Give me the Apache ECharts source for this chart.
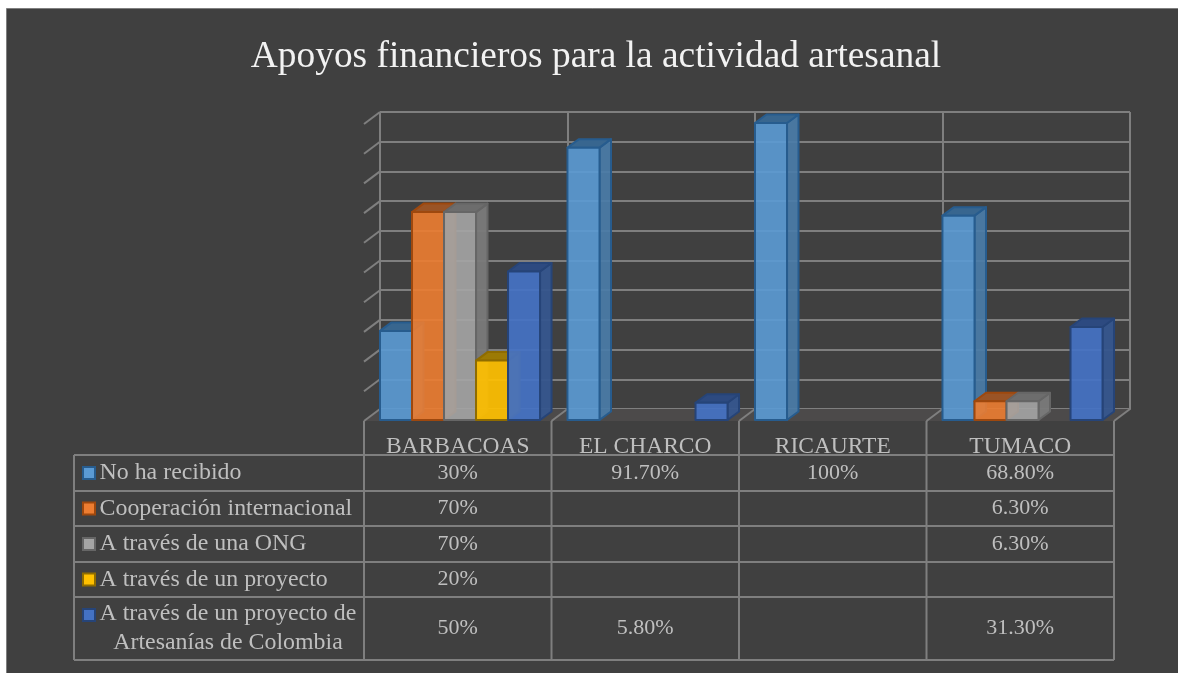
<!DOCTYPE html>
<html><head><meta charset="utf-8">
<style>html,body{margin:0;padding:0;background:#fff}#c{width:1178px;height:673px}</style>
<script src="https://cdn.jsdelivr.net/npm/echarts@6/dist/echarts.min.js"></script>
</head><body><div id="c"></div>
<script>
const titleText = 'Apoyos financieros para la actividad artesanal';
const categories = ['BARBACOAS','EL CHARCO','RICAURTE','TUMACO'];
const noRecibido = [30, 91.7, 100, 68.8];
const cooperacion = [70, null, null, 6.3];
const ong = [70, null, null, 6.3];
const proyecto = [20, null, null, null];
const artesanias = [50, 5.8, null, 31.3];
const seriesNames = ['No ha recibido','Cooperación internacional','A través de una ONG','A través de un proyecto','A través de un proyecto de\nArtesanías de Colombia'];
const seriesValues = [noRecibido, cooperacion, ong, proyecto, artesanias];
const wallTicks = [10,20,30,40,50,60,70,80,90,100];

const palette = [
 {front:'rgba(91,155,213,0.9)', side:'rgba(74,124,168,0.92)', top:'#38668f', edge:'#275c8e', key:'#5b9bd5'},
 {front:'rgba(237,125,49,0.9)', side:'rgba(176,94,38,0.92)', top:'#9a5426', edge:'#9e480e', key:'#ed7d31'},
 {front:'rgba(165,165,165,0.9)', side:'rgba(122,122,122,0.95)', top:'#6d6d6d', edge:'#666666', key:'#a5a5a5'},
 {front:'rgba(255,192,0,0.92)', side:'rgba(170,130,0,0.9)', top:'#9c7a05', edge:'#8f6c00', key:'#ffc000'},
 {front:'rgba(68,114,196,0.92)', side:'rgba(54,86,142,0.95)', top:'#2d4a80', edge:'#264478', key:'#4472c4'}
];

const FX=364, FW=750, FY=123, FH=297;   // front plane
const DX=16, DY=11;                     // wall depth
const BAR_DX=11.5, BAR_DY=8.5;          // bar depth
const LINE='#7f7f7f', TXT='#bfbfbf';
const rowY=[455,491,526,562,597,660];
const colX=[364,551.5,739,926.5,1114];
const TABLE_L=74;

function fmt(v){ if(v==null) return ''; return Number.isInteger(v)? v+'%' : v.toFixed(2)+'%'; }

function barRender(si){
  return function(params, api){
    const v = api.value(1);
    if (v==null || isNaN(v)) return;
    const c = api.value(0);
    const band = api.size([1,0])[0];
    const bw = band*0.1707;
    const start = api.coord([c,0]);
    const topPt = api.coord([c,v]);
    const x0 = start[0]-band/2+16+si*bw, x1 = x0+bw, y0 = start[1], y1 = topPt[1];
    const p = palette[si];
    const st = (fill)=>({fill:fill, stroke:p.edge, lineWidth:2, lineJoin:'round'});
    return {type:'group', children:[
      {type:'polygon', shape:{points:[[x1,y1],[x1+BAR_DX,y1-BAR_DY],[x1+BAR_DX,y0-BAR_DY],[x1,y0]]}, style:st(p.side)},
      {type:'polygon', shape:{points:[[x0,y1],[x0+BAR_DX,y1-BAR_DY],[x1+BAR_DX,y1-BAR_DY],[x1,y1]]}, style:st(p.top)},
      {type:'polygon', shape:{points:[[x0,y0],[x0,y1],[x1,y1],[x1,y0]]}, style:st(p.front)}
    ]};
  };
}

const barSeries = seriesValues.map((vals,si)=>({
  type:'custom', name:seriesNames[si], coordinateSystem:'cartesian2d', xAxisIndex:0, yAxisIndex:0, z:10+si,
  clip:false, silent:true,
  data: vals.map((v,i)=>[i,v]).filter(d=>d[1]!=null),
  encode:{x:0,y:1},
  renderItem:barRender(si)
}));

// left wall ticks, on the back-wall axis
const wallSeries = {
  type:'custom', coordinateSystem:'cartesian2d', xAxisIndex:1, yAxisIndex:1, z:3, clip:false, silent:true,
  data: wallTicks.map(v=>[0,v]), encode:{x:0,y:1},
  renderItem(params, api){
    const band = api.size([1,0])[0];
    const pt = api.coord([0, api.value(1)]);
    const x = pt[0]-band/2;
    return {type:'line', shape:{x1:x-DX,y1:pt[1]+DY+1,x2:x,y2:pt[1]}, style:{stroke:LINE,lineWidth:2}};
  }
};
const floorSeries = {
  type:'custom', coordinateSystem:'cartesian2d', xAxisIndex:1, yAxisIndex:1, z:2, clip:false, silent:true,
  data:[[0,0]], encode:{x:0,y:1},
  renderItem(params, api){
    const band = api.size([1,0])[0];
    const pt = api.coord([0,0]);
    const xl = pt[0]-band/2, xr = xl+band*categories.length;
    const kids=[{type:'polygon', shape:{points:[[xl,pt[1]],[xr,pt[1]],[xr-DX,pt[1]+DY+1],[xl-DX,pt[1]+DY+1]]},
      style:{fill:'#4c4a4a'}}];
    for(let i=0;i<=categories.length;i++){
      const x=xl+band*i;
      kids.push({type:'line',shape:{x1:x,y1:pt[1],x2:x-DX,y2:pt[1]+DY+1},style:{stroke:LINE,lineWidth:2}});
    }
    return {type:'group',children:kids};
  }
};

// page frame, data table & keys
const g = [];
g.push({type:'rect', z:-10, silent:true, shape:{x:6.5,y:8.5,width:1200,height:700}, style:{fill:'#404040',stroke:'#7f7f7f',lineWidth:1}});
const hline=(y,x1,x2)=>g.push({type:'line',silent:true,z:1,shape:{x1:x1,y1:y,x2:x2,y2:y},style:{stroke:LINE,lineWidth:2}});
const vline=(x,y1,y2)=>g.push({type:'line',silent:true,z:1,shape:{x1:x,y1:y1,x2:x,y2:y2},style:{stroke:LINE,lineWidth:2}});
rowY.forEach(y=>hline(y,TABLE_L,colX[4]));
vline(TABLE_L,rowY[0],rowY[5]);
colX.forEach(x=>vline(x,421,rowY[5]));
const FS=23.5;
const font='23.9px "Liberation Serif"';
const valFont='22px "Liberation Serif"';
seriesNames.forEach((name,r)=>{
  const cy=(rowY[r]+rowY[r+1])/2;
  const lines=name.split('\n');
  const kx=82, ky=(lines.length>1? rowY[r]+18 : cy)-7;
  g.push({type:'rect',silent:true,z:5,shape:{x:kx+1,y:ky+1,width:12,height:12},style:{fill:palette[r].key,stroke:palette[r].edge,lineWidth:2}});
  if(lines.length===1){
    g.push({type:'text',silent:true,z:5,style:{text:name,x:99.5,y:cy,fill:TXT,font:font,textAlign:'left',textVerticalAlign:'middle'}});
  }else{
    g.push({type:'text',silent:true,z:5,style:{text:lines[0],x:99.5,y:rowY[r]+17,fill:TXT,font:font,textAlign:'left',textVerticalAlign:'middle'}});
    g.push({type:'text',silent:true,z:5,style:{text:lines[1],x:228,y:rowY[r]+46,fill:TXT,font:font,textAlign:'center',textVerticalAlign:'middle'}});
  }
  seriesValues[r].forEach((v,c)=>{
    if(v==null) return;
    g.push({type:'text',silent:true,z:5,style:{text:fmt(v),x:(colX[c]+colX[c+1])/2,y:cy,fill:TXT,font:valFont,textAlign:'center',textVerticalAlign:'middle'}});
  });
});

const chart = echarts.init(document.getElementById('c'),null,{renderer:'canvas'});
chart.setOption({
  animation:false,
  backgroundColor:'#ffffff',
  title:{text:titleText,left:591,top:34,textAlign:'center',textStyle:{fontFamily:'Liberation Serif',fontSize:37.4,fontWeight:'normal',color:'#f2f2f2'}},
  grid:[
    {left:FX,top:FY,width:FW,height:FH},
    {left:FX+DX,top:FY-DY,width:FW,height:FH}
  ],
  xAxis:[
    {type:'category',gridIndex:0,data:categories,boundaryGap:true,
     axisLine:{show:false},axisTick:{show:false},splitLine:{show:false},
     axisLabel:{interval:0,margin:15,color:TXT,fontFamily:'Liberation Serif',fontSize:FS}},
    {type:'category',gridIndex:1,data:categories,boundaryGap:true,
     axisLine:{show:true,lineStyle:{color:LINE,width:2}},axisTick:{show:false},axisLabel:{show:false},
     splitLine:{show:true,interval:0,lineStyle:{color:LINE,width:2}}}
  ],
  yAxis:[
    {type:'value',gridIndex:0,min:0,max:100,interval:10,axisLine:{show:false},axisTick:{show:false},axisLabel:{show:false},splitLine:{show:false}},
    {type:'value',gridIndex:1,min:0,max:100,interval:10,axisLine:{show:false},axisTick:{show:false},axisLabel:{show:false},
     splitLine:{show:true,lineStyle:{color:LINE,width:2}}}
  ],
  graphic:g,
  series:[floorSeries,wallSeries].concat(barSeries)
});
</script></body></html>
